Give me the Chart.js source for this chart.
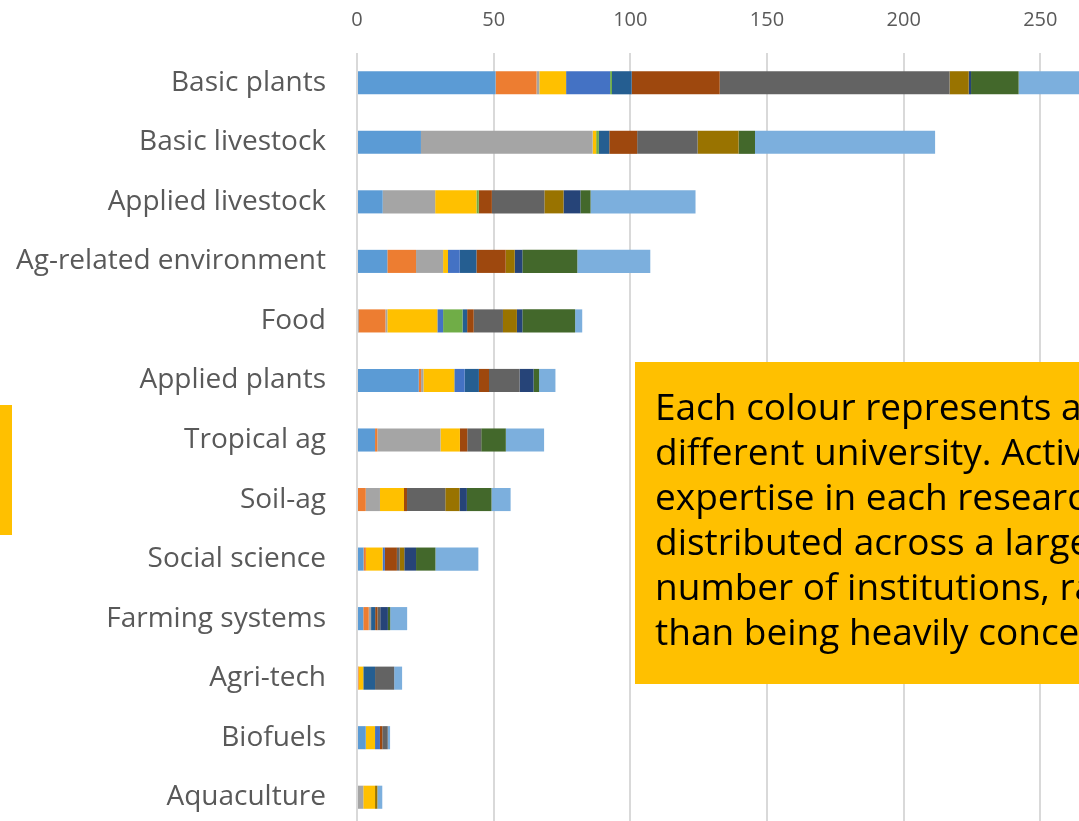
<!DOCTYPE html>
<html>
<head>
<meta charset="utf-8">
<script src="https://cdn.jsdelivr.net/npm/chart.js@4"></script>
<style>
	html, body { margin: 0; padding: 0; background: #fff; overflow: hidden; }
	#wrap { position: absolute; left: 0; top: 0; width: 1177px; height: 827px; }
	.note {
		position: absolute; left: 635px; top: 362px; width: 560px; height: 322px;
		background: #FFC000; box-sizing: border-box; padding: 21px 0 0 20px;
		font-family: "Open Sans", sans-serif; font-size: 37px; line-height: 45px; color: #000;
		white-space: nowrap;
	}
	.strip { position: absolute; left: 0; top: 405px; width: 12px; height: 130px; background: #FFC000; }
</style>
</head>
<body>
<div id="wrap"><canvas id="researchChart"></canvas></div>
<div class="strip"></div>
<div class="note">Each colour represents a<br>different university. Active<br>expertise in each research area is<br>distributed across a larger<br>number of institutions, rather<br>than being heavily concentrated</div>

<script>
/* 연구 분야별 대학 기여도 — 가로 누적 막대 */
const areas = ['Basic plants', 'Basic livestock', 'Applied livestock', 'Ag-related environment', 'Food',
	'Applied plants', 'Tropical ag', 'Soil-ag', 'Social science', 'Farming systems', 'Agri-tech', 'Biofuels', 'Aquaculture'];

const xTicks = [0, 50, 100, 150, 200, 250, 300];

// 대학별 값 (분야 순서 동일)
const uni01 = [50.7, 23.4,  9.4, 11.1,  0.5, 22.6,  6.6, 0,   2.4, 2.3, 0,   3.2, 0];
const uni02 = [15.0, 0,     0,   10.5,  9.9,  0.85, 0.85, 3.2, 0.85, 2.0, 0.6, 0,  0];
const uni03 = [1.0,  62.8, 19.2,  9.9,  0.7,  0.85, 23.1, 5.2, 0,   0.85, 0,  0,   2.3];
const uni04 = [9.8,  1.3,  15.1,  1.8, 18.3, 11.3,  7.1, 8.8, 6.1, 0,   1.7, 3.4, 4.3];
const uni05 = [16.1, 0,     0,    4.3,  2.1,  3.8,  0,   0,   0.85, 0,  0,   1.8, 0];
const uni06 = [0.7,  1.0,  0.85,  0,    7.1,  0,    0,   0,   0,   0,   0,   0,   0];
const uni07 = [7.2,  3.8,   0,    6.1,  1.7,  5.2,  0,   0,   0,   1.5, 4.3, 0,   0];
const uni08 = [32.2, 10.2,  4.8, 10.7,  2.4,  3.7,  2.7, 1.1, 4.4, 0.85, 0,  0.85, 0];
const uni09 = [84.1, 22.1, 19.2,  0,   10.7, 11.2,  5.1, 14.0, 1.0, 1.0, 7.0, 2.0, 0];
const uni10 = [7.0,  15.0,  7.0,  3.3,  5.1,  0,    0,   5.2, 1.7, 0,   0,   0,   0.85];
const uni11 = [0.85, 0,     6.2,  2.8,  2.0,  5.1,  0,   2.7, 4.3, 2.8, 0,   0,   0];
const uni12 = [17.4, 6.0,   3.7, 20.1, 19.3,  2.0,  9.0, 9.0, 7.1, 0.85, 0,  0,   0];
const uni13 = [30.0, 65.9, 38.4, 26.7,  2.6,  6.0, 14.0, 7.0, 15.7, 6.2, 2.9, 0.85, 1.8];

const uniValues = [uni01, uni02, uni03, uni04, uni05, uni06, uni07, uni08, uni09, uni10, uni11, uni12, uni13];
const uniColors = ['#5B9BD5', '#ED7D31', '#A5A5A5', '#FFC000', '#4472C4', '#70AD47', '#255E91',
	'#9E480E', '#636363', '#997300', '#264478', '#43682B', '#7CAFDD'];

const datasets = uniValues.map(function(vals, i) {
	return {
		label: 'University ' + (i + 1),
		data: vals,
		backgroundColor: uniColors[i],
		borderWidth: 0,
		barPercentage: 0.8,
		categoryPercentage: 0.485
	};
});

// 축 여백 고정 — 자동 라벨 패딩 무시
function fixPadding(scale) {
	scale.paddingLeft = 0;
	scale.paddingRight = 0;
	scale.paddingTop = 0;
	scale.paddingBottom = 0;
}

new Chart(document.getElementById('researchChart'), {
	type: 'bar',
	data: { labels: areas, datasets: datasets },
	options: {
		indexAxis: 'y',
		responsive: true,
		maintainAspectRatio: false,
		animation: false,
		layout: { padding: 0 },
		plugins: { legend: { display: false }, tooltip: { enabled: false } },
		scales: {
			x: {
				position: 'top',
				stacked: true,
				min: 0,
				max: 300,
				afterBuildTicks: function(scale) { scale.ticks = xTicks.map(v => ({ value: v })); },
				afterFit: function(scale) { scale.height = 53; fixPadding(scale); },
				grid: { color: '#D9D9D9', lineWidth: 2, drawTicks: false },
				border: { display: false },
				ticks: { color: '#595959', padding: 21, font: { family: 'Open Sans', size: 20 } }
			},
			y: {
				stacked: true,
				afterFit: function(scale) { scale.width = 357; fixPadding(scale); },
				grid: { display: false, drawTicks: false },
				border: { display: false },
				ticks: { color: '#595959', padding: 31, font: { family: 'Open Sans', size: 28 } }
			}
		}
	}
});
</script>
</body>
</html>
